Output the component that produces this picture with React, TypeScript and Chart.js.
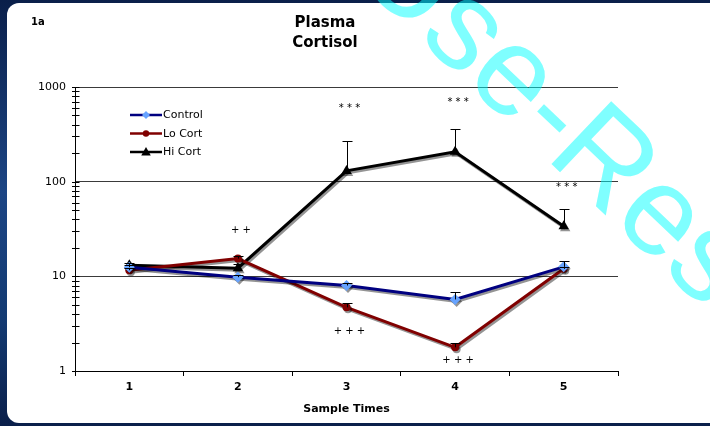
import React, { useEffect, useRef } from "react";
import { Chart, registerables } from "chart.js";

Chart.register(...registerables);

// ---- data ----
const categories = ["1", "2", "3", "4", "5"];
const seriesNames = ["Control", "Lo Cort", "Hi Cort"];
const controlMean = [12.5, 9.8, 8.0, 5.7, 12.6];
const controlErrTop = [13.2, 10.3, 8.5, 6.9, 14.4];
const loCortMean = [11.6, 15.4, 4.7, 1.78, 12.0];
const loCortErrTop = [12.2, 16.5, 5.2, 1.99, 12.6];
const hiCortMean = [13.1, 12.2, 130, 207, 33.8];
const hiCortErrTop = [13.9, 13.6, 267, 357, 52];
const yMajorTicks = [1, 10, 100, 1000];
const sigLabels = ["+ +", "+ + +", "+ + +", "* * *", "* * *", "* * *"];
const sigCategories = ["2", "3", "4", "3", "4", "5"];
const sigValues = [30.9, 2.65, 1.28, 600, 694, 88];
const titleLines = ["Plasma", "Cortisol"];
const xAxisTitle = "Sample Times";
const panelLabel = "1a";
const watermarkText = "Use-Research";

const FONT = "'DejaVu Sans', Verdana, sans-serif";

const lineColors = ["#000080", "#800000", "#000000"];
const markerColors = ["#66a3ff", "#800000", "#000000"];
const pointStyles = ["rectRot", "circle", "triangle"];
const pointRadii = [5.5, 4, 6];
const errTops = [controlErrTop, loCortErrTop, hiCortErrTop];

function allLogTicks() {
  const out: number[] = [];
  for (let d = 1; d < 1000; d *= 10) {
    for (let m = 1; m < 10; m++) out.push(m * d);
  }
  out.push(1000);
  return out;
}

function drawMarker(ctx: CanvasRenderingContext2D, style: string, x: number, y: number, r: number, color: string) {
  ctx.fillStyle = color;
  ctx.beginPath();
  if (style === "rectRot") {
    ctx.moveTo(x, y - r);
    ctx.lineTo(x + r, y);
    ctx.lineTo(x, y + r);
    ctx.lineTo(x - r, y);
  } else if (style === "circle") {
    ctx.arc(x, y, r, 0, Math.PI * 2);
  } else {
    ctx.moveTo(x, y - r);
    ctx.lineTo(x + r * 0.95, y + r * 0.7);
    ctx.lineTo(x - r * 0.95, y + r * 0.7);
  }
  ctx.closePath();
  ctx.fill();
}

const shadowPlugin = {
  id: "shadowPlugin",
  beforeDatasetDraw(chart: any) {
    const ctx = chart.ctx;
    ctx.save();
    ctx.shadowColor = "rgba(0,0,0,0.42)";
    ctx.shadowOffsetX = 1.5;
    ctx.shadowOffsetY = 2;
    ctx.shadowBlur = 0.5;
  },
  afterDatasetDraw(chart: any) {
    chart.ctx.restore();
  },
};

const decorPlugin = {
  id: "decorPlugin",
  afterDatasetsDraw(chart: any) {
    const ctx = chart.ctx;
    const y = chart.scales.y;
    const x = chart.scales.x;
    // error bars
    ctx.save();
    ctx.strokeStyle = "#000";
    ctx.lineWidth = 1;
    chart.data.datasets.forEach((_ds: any, i: number) => {
      const meta = chart.getDatasetMeta(i);
      meta.data.forEach((pt: any, j: number) => {
        const top = y.getPixelForValue(errTops[i][j]);
        const px = Math.round(pt.x) + 0.5;
        const py = Math.round(top) + 0.5;
        ctx.beginPath();
        ctx.moveTo(px, pt.y);
        ctx.lineTo(px, py);
        ctx.moveTo(px - 5, py);
        ctx.lineTo(px + 5, py);
        ctx.stroke();
      });
    });
    ctx.restore();

    // significance marks
    ctx.save();
    ctx.fillStyle = "#000";
    ctx.font = `10px ${FONT}`;
    ctx.textAlign = "center";
    ctx.textBaseline = "middle";
    sigLabels.forEach((t, k) => {
      const px = x.getPixelForValue(categories.indexOf(sigCategories[k]));
      const py = y.getPixelForValue(sigValues[k]);
      ctx.fillText(t, px + 3, py);
    });
    ctx.restore();
  },
  afterDraw(chart: any) {
    const ctx = chart.ctx;
    const y = chart.scales.y;
    // crossing ticks on y axis
    ctx.save();
    ctx.strokeStyle = "#000";
    ctx.lineWidth = 1;
    const ax = Math.round(y.right) + 0.5;
    allLogTicks().forEach((v) => {
      const py = Math.round(y.getPixelForValue(v)) + 0.5;
      ctx.beginPath();
      ctx.moveTo(ax - 3.5, py);
      ctx.lineTo(ax + 4, py);
      ctx.stroke();
    });
    ctx.restore();

    // legend
    ctx.save();
    const legendYs = [115, 133.5, 152];
    seriesNames.forEach((name, i) => {
      const ly = legendYs[i];
      ctx.strokeStyle = lineColors[i];
      ctx.lineWidth = 2.5;
      ctx.beginPath();
      ctx.moveTo(130, ly);
      ctx.lineTo(162, ly);
      ctx.stroke();
      drawMarker(ctx, pointStyles[i], 146, ly, [4, 3.2, 5][i], markerColors[i]);
      ctx.fillStyle = "#000";
      ctx.font = `11px ${FONT}`;
      ctx.textAlign = "left";
      ctx.textBaseline = "middle";
      ctx.fillText(name, 163, ly + 0.5);
    });
    ctx.restore();

    // title & panel label
    ctx.save();
    ctx.fillStyle = "#000";
    ctx.textAlign = "center";
    ctx.textBaseline = "middle";
    ctx.font = `bold 15px ${FONT}`;
    ctx.fillText(titleLines[0], 325, 23);
    ctx.fillText(titleLines[1], 325, 43);
    ctx.font = `bold 10px ${FONT}`;
    ctx.textAlign = "left";
    ctx.fillText(panelLabel, 31, 22);
    ctx.restore();
  },
};

export default function App() {
  const ref = useRef<HTMLCanvasElement | null>(null);

  useEffect(() => {
    if (!ref.current) return;
    const means = [controlMean, loCortMean, hiCortMean];
    const chart = new Chart(ref.current, {
      type: "line",
      data: {
        labels: categories,
        datasets: seriesNames.map((name, i) => ({
          label: name,
          data: means[i],
          borderColor: lineColors[i],
          backgroundColor: markerColors[i],
          pointBackgroundColor: markerColors[i],
          pointBorderColor: markerColors[i],
          pointBorderWidth: 0,
          pointStyle: pointStyles[i] as any,
          pointRadius: pointRadii[i],
          borderWidth: 3,
          tension: 0,
          fill: false,
        })),
      },
      options: {
        animation: false,
        responsive: false,
        maintainAspectRatio: false,
        layout: { padding: { top: 87, right: 32, bottom: 0, left: 0 } },
        plugins: {
          legend: { display: false },
          title: { display: false },
          tooltip: { enabled: false },
        },
        scales: {
          x: {
            type: "category",
            offset: true,
            grid: {
              offset: true,
              drawOnChartArea: false,
              drawTicks: true,
              tickLength: 5,
              color: "#000",
            },
            border: { display: true, color: "#000", width: 1 },
            ticks: {
              color: "#000",
              font: { family: FONT, size: 11, weight: "bold" },
              padding: 5,
              maxRotation: 0,
            },
            title: {
              display: true,
              text: xAxisTitle,
              color: "#000",
              font: { family: FONT, size: 11, weight: "bold" },
              padding: { top: 4, bottom: 10 },
            },
            afterFit(scale: any) {
              scale.height = 55;
            },
          },
          y: {
            type: "logarithmic",
            min: 1,
            max: 1000,
            afterBuildTicks(scale: any) {
              scale.ticks = allLogTicks().map((v) => ({ value: v, major: yMajorTicks.includes(v) }));
            },
            afterFit(scale: any) {
              scale.width = 75;
            },
            grid: {
              drawTicks: false,
              color: (c: any) => (c.tick && [10, 100, 1000].includes(c.tick.value) ? "#3a3a3a" : "rgba(0,0,0,0)"),
              lineWidth: 1,
            },
            border: { display: true, color: "#000", width: 1 },
            ticks: {
              autoSkip: false,
              color: "#000",
              padding: 9,
              font: { family: FONT, size: 11 },
              callback: (v: any) => (yMajorTicks.includes(Number(v)) ? String(v) : ""),
            },
          },
        },
      },
      plugins: [shadowPlugin, decorPlugin],
    });
    return () => chart.destroy();
  }, []);

  // watermark geometry
  const wmX = 351;
  const wmY = -26;
  return (
    <div
      style={{
        position: "fixed",
        left: 0,
        top: 0,
        width: 710,
        height: 426,
        overflow: "hidden",
        background: "linear-gradient(180deg, #0a1f4a 0%, #1c4584 45%, #133a72 75%, #0a1f4a 100%)",
      }}
    >
      <div
        style={{
          position: "absolute",
          left: 7,
          top: 3,
          width: 740,
          height: 420,
          background: "#fff",
          borderRadius: 12,
        }}
      />
      <canvas ref={ref} width={650} height={426} style={{ position: "absolute", left: 0, top: 0, width: 650, height: 426 }} />
      <svg width={710} height={426} style={{ position: "absolute", left: 0, top: 0, pointerEvents: "none" }}>
        <text
          x={wmX}
          y={wmY}
          transform={`rotate(43.5 ${wmX} ${wmY})`}
          fontFamily="'Liberation Sans', Arial, sans-serif"
          fontSize={126}
          fill="#00ffff"
          fillOpacity={0.5}
        >
          {watermarkText}
        </text>
      </svg>
    </div>
  );
}
